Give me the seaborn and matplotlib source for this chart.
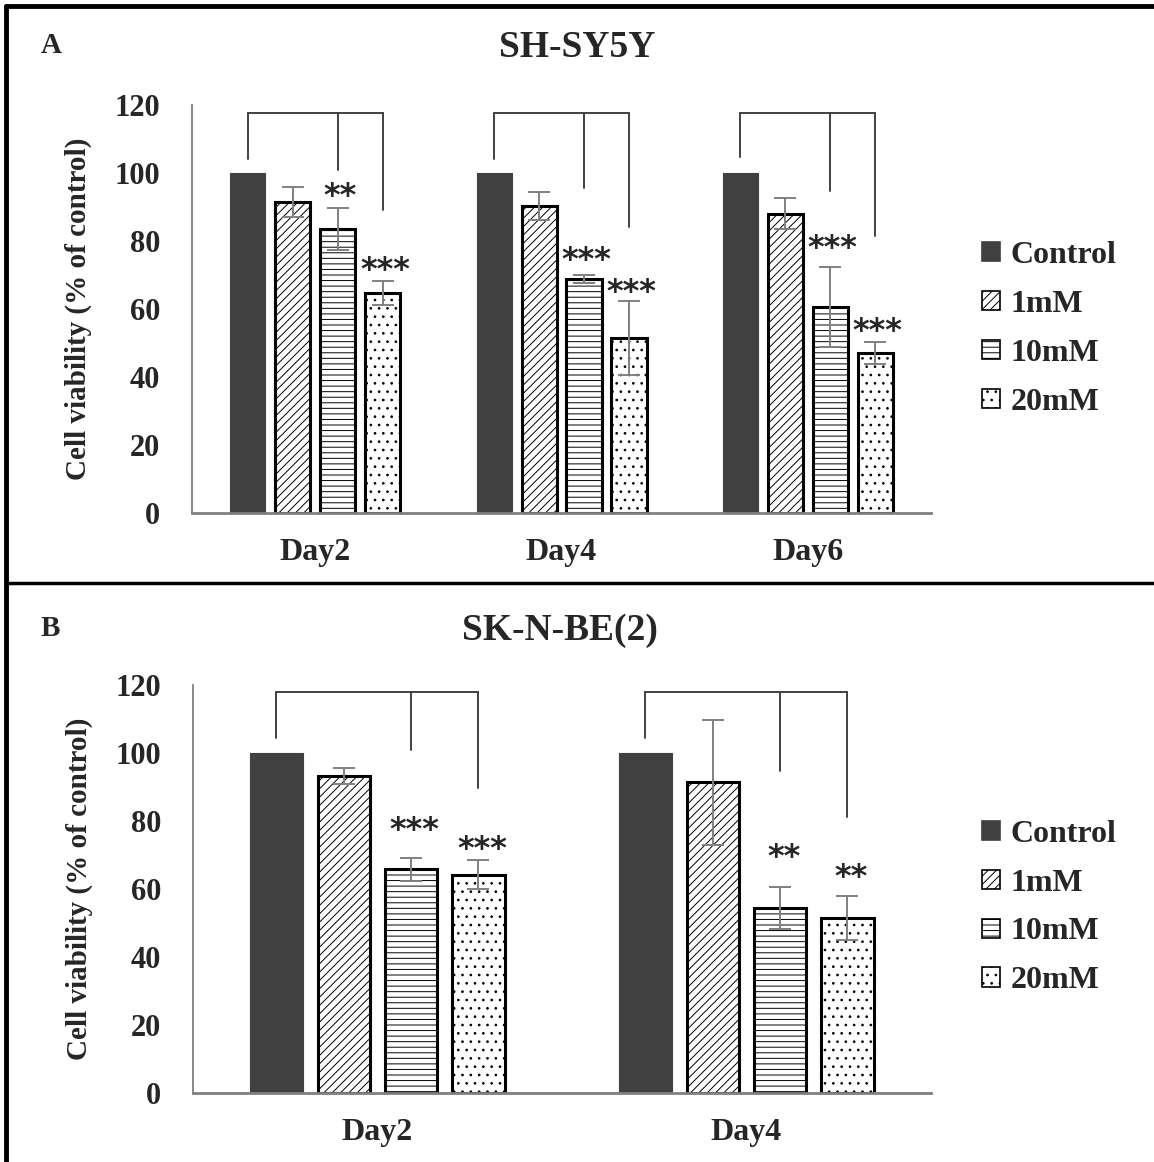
import matplotlib
matplotlib.use("Agg")
import matplotlib.pyplot as plt
import matplotlib.patches as mpatches
from matplotlib.lines import Line2D
import seaborn as sns
import pandas as pd

# データ
doses = ["Control", "1mM", "10mM", "20mM"]

# A: SH-SY5Y
a_days = ["Day2", "Day4", "Day6"]
a_control = [100, 100, 100]
a_1mm = [91.5, 90.3, 88.0]
a_10mm = [83.5, 68.8, 60.6]
a_20mm = [64.7, 51.5, 47.1]
a_err_1mm = [4.4, 4.1, 4.6]
a_err_10mm = [6.2, 1.2, 11.8]
a_err_20mm = [3.5, 10.9, 3.2]
a_star_10mm = ["**", "***", "***"]
a_star_10mm_y = [95.6, 76.8, 80.3]
a_star_20mm = ["***", "***", "***"]
a_star_20mm_y = [73.8, 67.4, 55.9]
a_bracket_top = 117.6
a_bracket_ctrl = [104, 104, 104.7]
a_bracket_10mm = [100.9, 95.6, 94.7]
a_bracket_20mm = [89, 84, 81.5]

# B: SK-N-BE(2)
b_days = ["Day2", "Day4"]
b_control = [100, 100]
b_1mm = [93.2, 91.4]
b_10mm = [65.8, 54.3]
b_20mm = [64.2, 51.4]
b_err_1mm = [2.4, 18.4]
b_err_10mm = [3.4, 6.2]
b_err_20mm = [4.2, 6.4]
b_star_10mm = ["***", "**"]
b_star_10mm_y = [79.8, 71.8]
b_star_20mm = ["***", "**"]
b_star_20mm_y = [74.1, 66.0]
b_bracket_top = 117.9
b_bracket_ctrl = [104.5, 104.5]
b_bracket_10mm = [101, 94.8]
b_bracket_20mm = [89.6, 81.3]

colors = {"Control": "#404040", "1mM": "white", "10mM": "white", "20mM": "white"}
hatches = {"Control": "", "1mM": "////", "10mM": "---", "20mM": ".."}
GRAY = "#808080"

sns.set_style("white")
plt.rcParams["font.family"] = ["Liberation Serif", "DejaVu Serif"]
plt.rcParams["font.weight"] = "bold"
plt.rcParams["hatch.linewidth"] = 0.7


def draw_panel(ax, days, values, errs, stars10, stars10_y, stars20, stars20_y,
               br_top, br_ctrl, br_10, br_20, legend_y):
    rows = []
    for dose, vals in zip(doses, values):
        for d, v in zip(days, vals):
            rows.append({"day": d, "dose": dose, "viability": v})
    df = pd.DataFrame(rows)
    sns.barplot(data=df, x="day", y="viability", hue="dose", order=days,
                hue_order=doses, palette=colors, saturation=1, width=0.73,
                gap=0.22, errorbar=None, legend=False, ax=ax)

    centers = {}
    for cont, dose in zip(ax.containers, doses):
        xs = []
        for p in cont:
            xs.append(p.get_x() + p.get_width() / 2)
            if dose == "Control":
                p.set_edgecolor("#404040")
                p.set_linewidth(0.8)
            else:
                p.set_edgecolor("black")
                p.set_linewidth(2.2)
                p.set_hatch(hatches[dose])
        centers[dose] = xs

    # エラーバー
    for dose, vals, e in zip(doses[1:], values[1:], errs):
        ax.errorbar(centers[dose], vals, yerr=e, fmt="none", ecolor=GRAY,
                    elinewidth=1.4, capsize=8, capthick=1.4, zorder=5)

    # 有意差の記号（アスタリスクは上寄りなので少し下げる）
    for xs, labs, ys in [(centers["10mM"], stars10, stars10_y),
                         (centers["20mM"], stars20, stars20_y)]:
        for x, lab, y in zip(xs, labs, ys):
            ax.text(x + 0.01, y - 2.5, lab, ha="center", va="center", fontsize=23,
                    fontweight="bold", family="DejaVu Sans")

    # ブラケット
    for i in range(len(days)):
        x0, x1, x2 = centers["Control"][i], centers["10mM"][i], centers["20mM"][i]
        ax.plot([x0, x2], [br_top, br_top], color="#404040", lw=1.4)
        ax.plot([x0, x0], [br_top, br_ctrl[i]], color="#404040", lw=1.4)
        ax.plot([x1, x1], [br_top, br_10[i]], color="#404040", lw=1.4)
        ax.plot([x2, x2], [br_top, br_20[i]], color="#404040", lw=1.4)

    ax.set_xlim(-0.5, len(days) - 0.5)
    ax.set_ylim(0, 120)
    ax.set_yticks(range(0, 121, 20))
    ax.set_xlabel("")
    ax.set_ylabel("Cell viability (% of control)", fontsize=21, fontweight="bold")
    ax.yaxis.set_label_coords(-0.135, 0.5)
    sns.despine(ax=ax)
    ax.spines["left"].set_color(GRAY)
    ax.spines["left"].set_linewidth(1.3)
    ax.spines["bottom"].set_color(GRAY)
    ax.spines["bottom"].set_linewidth(2)
    ax.tick_params(axis="y", direction="out", length=9, width=1.3, color=GRAY,
                   pad=14, labelsize=22)
    ax.tick_params(axis="x", length=0, pad=18, labelsize=23)
    for lab in ax.get_xticklabels() + ax.get_yticklabels():
        lab.set_fontweight("bold")

    handles = [mpatches.Patch(facecolor=colors[d], hatch=hatches[d],
                              edgecolor="#404040" if d == "Control" else "black",
                              linewidth=1.2, label=d) for d in doses]
    fig.legend(handles=handles, loc="center left",
               bbox_to_anchor=(0.826, legend_y), frameon=False,
               handlelength=0.55, handleheight=0.55, handletextpad=0.35,
               labelspacing=0.62, prop={"size": 23, "weight": "bold"})


fig = plt.figure(figsize=(11.54, 11.62), dpi=100)
ax_a = fig.add_axes([0.1664, 0.5585, 0.6404, 0.3511])
ax_b = fig.add_axes([0.1672, 0.0594, 0.6395, 0.3511])

draw_panel(ax_a, a_days, [a_control, a_1mm, a_10mm, a_20mm],
           [a_err_1mm, a_err_10mm, a_err_20mm],
           a_star_10mm, a_star_10mm_y, a_star_20mm, a_star_20mm_y,
           a_bracket_top, a_bracket_ctrl, a_bracket_10mm, a_bracket_20mm, 0.717)
draw_panel(ax_b, b_days, [b_control, b_1mm, b_10mm, b_20mm],
           [b_err_1mm, b_err_10mm, b_err_20mm],
           b_star_10mm, b_star_10mm_y, b_star_20mm, b_star_20mm_y,
           b_bracket_top, b_bracket_ctrl, b_bracket_10mm, b_bracket_20mm, 0.219)

# タイトルとパネル記号
fig.text(0.035, 0.961, "A", fontsize=21, fontweight="bold", va="center")
fig.text(0.500, 0.959, "SH-SY5Y", fontsize=27, fontweight="bold", ha="center", va="center")
fig.text(0.035, 0.459, "B", fontsize=21, fontweight="bold", va="center")
fig.text(0.485, 0.457, "SK-N-BE(2)", fontsize=27, fontweight="bold", ha="center", va="center")

# 外枠
fig.add_artist(Line2D([0.005, 0.005], [0, 0.995], color="black", lw=3.5))
fig.add_artist(Line2D([0.005, 1], [0.995, 0.995], color="black", lw=3.5))
fig.add_artist(Line2D([0.005, 1], [0.498, 0.498], color="black", lw=2.5))

plt.savefig("out.png", dpi=100)
